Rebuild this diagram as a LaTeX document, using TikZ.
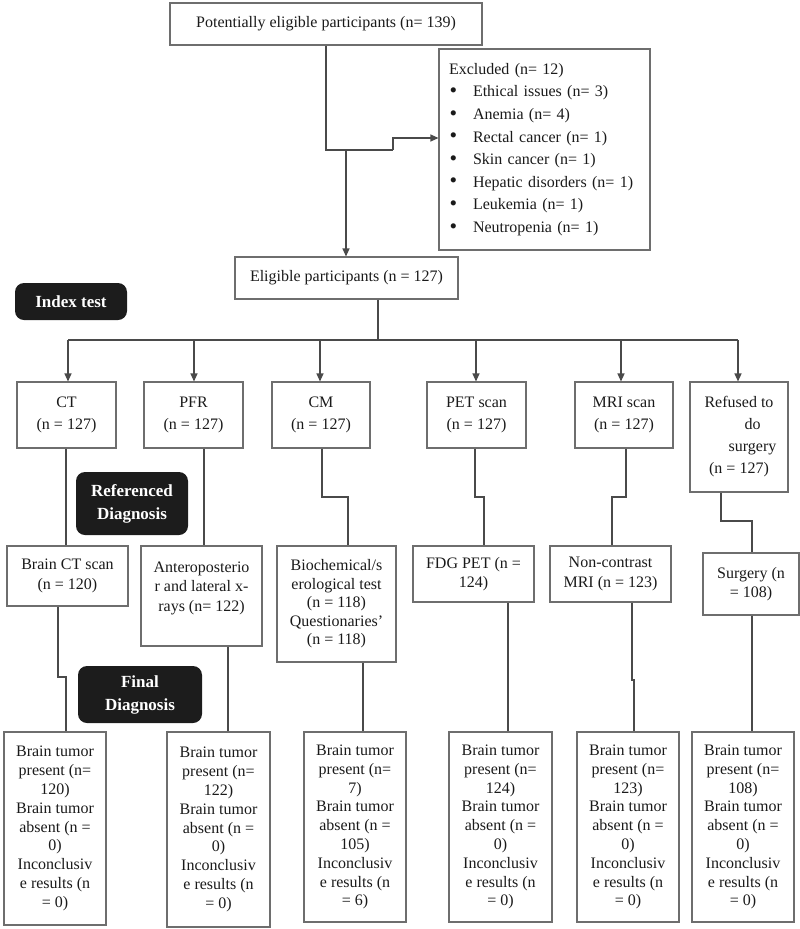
\documentclass[tikz,border=0pt]{standalone}
\usepackage{fontspec}
\setmainfont{Liberation Serif}
\usetikzlibrary{arrows.meta}
\definecolor{txt}{HTML}{1A1A1A}
\definecolor{bord}{HTML}{6E6E6E}
\definecolor{conncol}{HTML}{4A4A4A}
\definecolor{lab}{HTML}{1C1C1C}
\newcommand\exbullet{\hspace*{0.5pt}\makebox[23.5pt][l]{\raisebox{-0.6pt}{\scalebox{1.35}{\textbullet}}}}
\begin{document}
\begin{tikzpicture}[x=1pt,y=-1pt,
 box/.style={draw=bord, line width=1.1pt, inner sep=0pt, align=center, text=txt, font=\fontsize{16}{19.5}\selectfont},
 rowa/.style={box, font=\fontsize{16}{22}\selectfont},
 rowc/.style={box, font=\fontsize{16}{18.8}\selectfont},
 tagbox/.style={fill=lab, rounded corners=9pt, text=white, inner sep=0pt, align=center, font=\fontsize{17}{23}\selectfont\bfseries},
 connline/.style={draw=conncol, line width=1.2pt},
 arrline/.style={connline, -{Triangle[length=8pt,width=7pt]}}]
\useasboundingbox (0,0) rectangle (800,929);

% top
\node[box, minimum width=312pt, minimum height=42pt] (top) at (326,24) {Potentially eligible participants (n= 139)};
\node[box, text width=191pt, inner xsep=10pt, minimum height=201pt, align=left, font=\fontsize{16}{22.6}\selectfont] (excl) at (544.5,149.5) {Excluded (n= 12)\\
\exbullet Ethical issues (n= 3)\\
\exbullet Anemia (n= 4)\\
\exbullet Rectal cancer (n= 1)\\
\exbullet Skin cancer (n= 1)\\
\exbullet Hepatic disorders (n= 1)\\
\exbullet Leukemia (n= 1)\\
\exbullet Neutropenia (n= 1)};
\node[box, minimum width=223pt, minimum height=42pt] (elig) at (346.5,278) {Eligible participants (n = 127)};

% labels
\node[tagbox, minimum width=112pt, minimum height=37pt] (lidx) at (71,301.5) {Index test};
\node[tagbox, minimum width=112pt, minimum height=63pt] (lref) at (132,503.5) {Referenced\\Diagnosis};
\node[tagbox, minimum width=124pt, minimum height=57pt] (lfin) at (140,694.5) {Final\\Diagnosis};

% row 1
\node[rowa, minimum width=99pt, minimum height=66pt] (ct) at (66.5,415) {CT\\(n = 127)};
\node[rowa, minimum width=99pt, minimum height=66pt] (pfr) at (193.5,415) {PFR\\(n = 127)};
\node[rowa, minimum width=98pt, minimum height=66pt] (cm) at (321,415) {CM\\(n = 127)};
\node[rowa, minimum width=99pt, minimum height=66pt] (pet) at (476.5,415) {PET scan\\(n = 127)};
\node[rowa, minimum width=98pt, minimum height=66pt] (mri) at (624,415) {MRI scan\\(n = 127)};
\node[rowa, minimum width=98pt, minimum height=110pt] (ref) at (739,437) {Refused to\\\hspace*{27pt}do\\\hspace*{27pt}surgery\\(n = 127)};

% row 2
\node[box, minimum width=121pt, minimum height=60pt] (bct) at (67.5,576) {Brain CT scan\\(n = 120)};
\node[box, minimum width=121pt, minimum height=100pt] (ant) at (201.5,596) {Anteroposterio\\r and lateral x-\\rays (n= 122)\\\mbox{}};
\node[box, minimum width=119pt, minimum height=116pt, font=\fontsize{16}{18.5}\selectfont] (bio) at (336.5,604) {Biochemical/s\\erological test\\(n = 118)\\Questionaries'\\(n = 118)};
\node[box, minimum width=121pt, minimum height=56pt] (fdg) at (473.5,574) {FDG PET (n =\\124)};
\node[box, minimum width=121pt, minimum height=56pt] (ncm) at (610.5,574) {Non-contrast\\MRI (n = 123)};
\node[box, minimum width=96pt, minimum height=62pt] (sur) at (751,584) {Surgery (n\\= 108)};

% row 3
\node[rowc, minimum width=102pt, minimum height=193pt] (r1) at (55,828.5) {Brain tumor\\present (n=\\120)\\Brain tumor\\absent (n =\\0)\\Inconclusiv\\e results (n\\= 0)};
\node[rowc, minimum width=103pt, minimum height=195pt] (r2) at (218.5,829.5) {Brain tumor\\present (n=\\122)\\Brain tumor\\absent (n =\\0)\\Inconclusiv\\e results (n\\= 0)};
\node[rowc, minimum width=102pt, minimum height=190pt] (r3) at (355,827) {Brain tumor\\present (n=\\7)\\Brain tumor\\absent (n =\\105)\\Inconclusiv\\e results (n\\= 6)};
\node[rowc, minimum width=103pt, minimum height=190pt] (r4) at (500.5,827) {Brain tumor\\present (n=\\124)\\Brain tumor\\absent (n =\\0)\\Inconclusiv\\e results (n\\= 0)};
\node[rowc, minimum width=102pt, minimum height=190pt] (r5) at (628,827) {Brain tumor\\present (n=\\123)\\Brain tumor\\absent (n =\\0)\\Inconclusiv\\e results (n\\= 0)};
\node[rowc, minimum width=102pt, minimum height=190pt] (r6) at (743,827) {Brain tumor\\present (n=\\108)\\Brain tumor\\absent (n =\\0)\\Inconclusiv\\e results (n\\= 0)};

% connectors top
\coordinate (j1) at (393,150);
\coordinate (j2) at (346,150);
\draw[connline] (top.south -| 326,0) |- (j1);
\draw[arrline] (j1) |- (excl.west |- 0,138);
\draw[arrline] (j2) -- (elig.north -| j2);

% bar
\coordinate (bl) at (68,340);
\coordinate (br) at (738,340);
\draw[connline] (elig.south -| 378,0) -- (378,340);
\draw[connline] (bl) -- (br);
\draw[arrline] (bl) -- (ct.north -| bl);
\draw[arrline] (194,340) -- (pfr.north -| 194,0);
\draw[arrline] (320,340) -- (cm.north -| 320,0);
\draw[arrline] (476,340) -- (pet.north -| 476,0);
\draw[arrline] (621,340) -- (mri.north -| 621,0);
\draw[arrline] (br) -- (ref.north -| br);

% row1 -> row2
\draw[connline] (ct.south -| 66,0) -- (bct.north -| 66,0);
\draw[connline] (pfr.south -| 204,0) -- (ant.north -| 204,0);
\draw[connline] (cm.south -| 322,0) |- (348,497) -- (bio.north -| 348,0);
\draw[connline] (pet.south -| 475,0) |- (484,497) -- (fdg.north -| 484,0);
\draw[connline] (mri.south -| 626,0) |- (612,497) -- (ncm.north -| 612,0);
\draw[connline] (ref.south -| 721,0) |- (752,521) -- (sur.north -| 752,0);

% row2 -> row3
\draw[connline] (bct.south -| 58,0) |- (66,677) -- (r1.north -| 66,0);
\draw[connline] (ant.south -| 228,0) -- (r2.north -| 228,0);
\draw[connline] (bio.south -| 363,0) -- (r3.north -| 363,0);
\draw[connline] (fdg.south -| 508,0) -- (r4.north -| 508,0);
\draw[connline] (ncm.south -| 632,0) |- (634,680) -- (r5.north -| 634,0);
\draw[connline] (sur.south -| 752,0) -- (r6.north -| 752,0);
\end{tikzpicture}
\end{document}
